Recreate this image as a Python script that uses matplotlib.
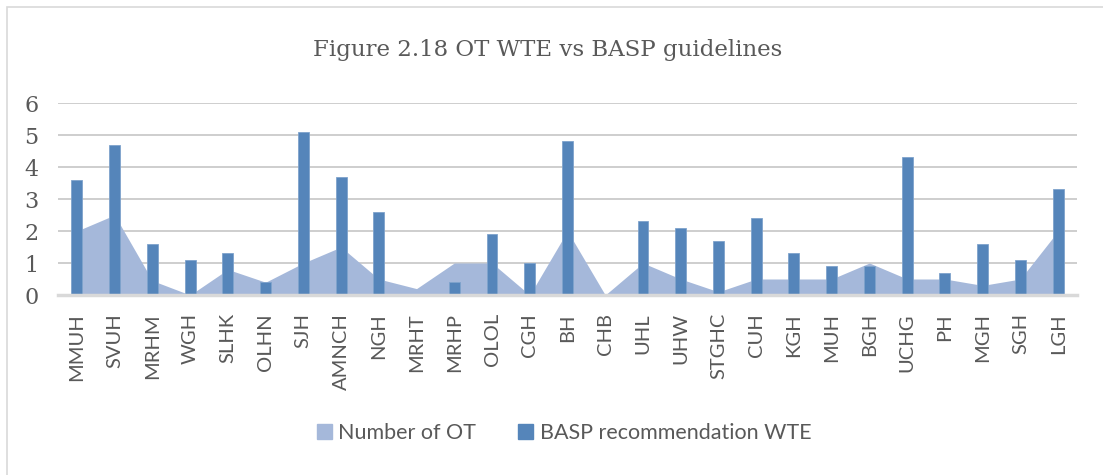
import numpy as np
import matplotlib
matplotlib.use("Agg")
import matplotlib.pyplot as plt
from matplotlib.patches import Rectangle, Patch

hospitals = ["MMUH", "SVUH", "MRHM", "WGH", "SLHK", "OLHN", "SJH", "AMNCH", "NGH",
             "MRHT", "MRHP", "OLOL", "CGH", "BH", "CHB", "UHL", "UHW", "STGHC",
             "CUH", "KGH", "MUH", "BGH", "UCHG", "PH", "MGH", "SGH", "LGH"]
num_ot = [2.0, 2.5, 0.45, 0.0, 0.8, 0.4, 1.0, 1.5, 0.5,
          0.2, 1.0, 1.0, 0.0, 2.0, 0.0, 1.0, 0.5, 0.1,
          0.5, 0.5, 0.5, 1.0, 0.5, 0.5, 0.3, 0.5, 2.0]
basp_wte = [3.6, 4.7, 1.6, 1.1, 1.3, 0.4, 5.1, 3.7, 2.6,
            0.0, 0.4, 1.9, 1.0, 4.8, 0.0, 2.3, 2.1, 1.7,
            2.4, 1.3, 0.9, 0.9, 4.3, 0.7, 1.6, 1.1, 3.3]
yticks = [0, 1, 2, 3, 4, 5, 6]

area_col = "#a5b8da"
bar_col = "#5585ba"
text_col = "#595959"

fig = plt.figure(figsize=(11.03, 4.75), dpi=100)
W, H = 1103, 475

# light chart border (only left/top visible in the crop)
fig.patches.append(Rectangle((7 / W, -0.2), 1.2, 1 - 7 / H + 0.2, transform=fig.transFigure,
                             fill=False, edgecolor="#d9d9d9", lw=1.2))

ax = fig.add_axes([58 / W, 1 - 295 / H, (1077 - 58) / W, (295 - 103) / H])
x = np.arange(len(hospitals))

ax.fill_between(x, 0, num_ot, color=area_col, lw=0, zorder=2)
ax.bar(x, basp_wte, width=0.29, color=bar_col, edgecolor="#7fa3cc", lw=0.6, zorder=3)

ax.set_xlim(-0.5, len(hospitals) - 0.5)
ax.set_ylim(0, 6)
ax.set_yticks(yticks)
ax.set_yticklabels([str(v) for v in yticks], family="DejaVu Serif", fontsize=16, color=text_col)
ax.set_xticks(x)
ax.set_xticklabels(hospitals, rotation=90, family="Lato", fontsize=14.5, color=text_col)
ax.tick_params(axis="y", length=0, pad=14)
ax.tick_params(axis="x", length=0, pad=13)

for v in yticks[1:]:
    ax.axhline(v, color="#c6c6c6", lw=1.2, zorder=1)
for s in ["top", "right", "left"]:
    ax.spines[s].set_visible(False)
ax.spines["bottom"].set_color("#d9d9d9")
ax.spines["bottom"].set_linewidth(2.5)
ax.spines["bottom"].set_zorder(4)

fig.text(548 / W, 1 - 50 / H, "Figure 2.18 OT WTE vs BASP guidelines", ha="center", va="center",
         family="DejaVu Serif", fontsize=16.5, color=text_col)

handles = [Patch(color=area_col, label="Number of OT"),
           Patch(color=bar_col, label="BASP recommendation WTE")]
fig.legend(handles=handles, loc="center", bbox_to_anchor=(564 / W, 1 - 433 / H), ncol=2,
           frameon=False, prop={"family": "Lato", "size": 15.5}, labelcolor=text_col,
           handlelength=0.7, handleheight=0.7, handletextpad=0.3, columnspacing=1.95)

fig.savefig("out.png", dpi=100)
